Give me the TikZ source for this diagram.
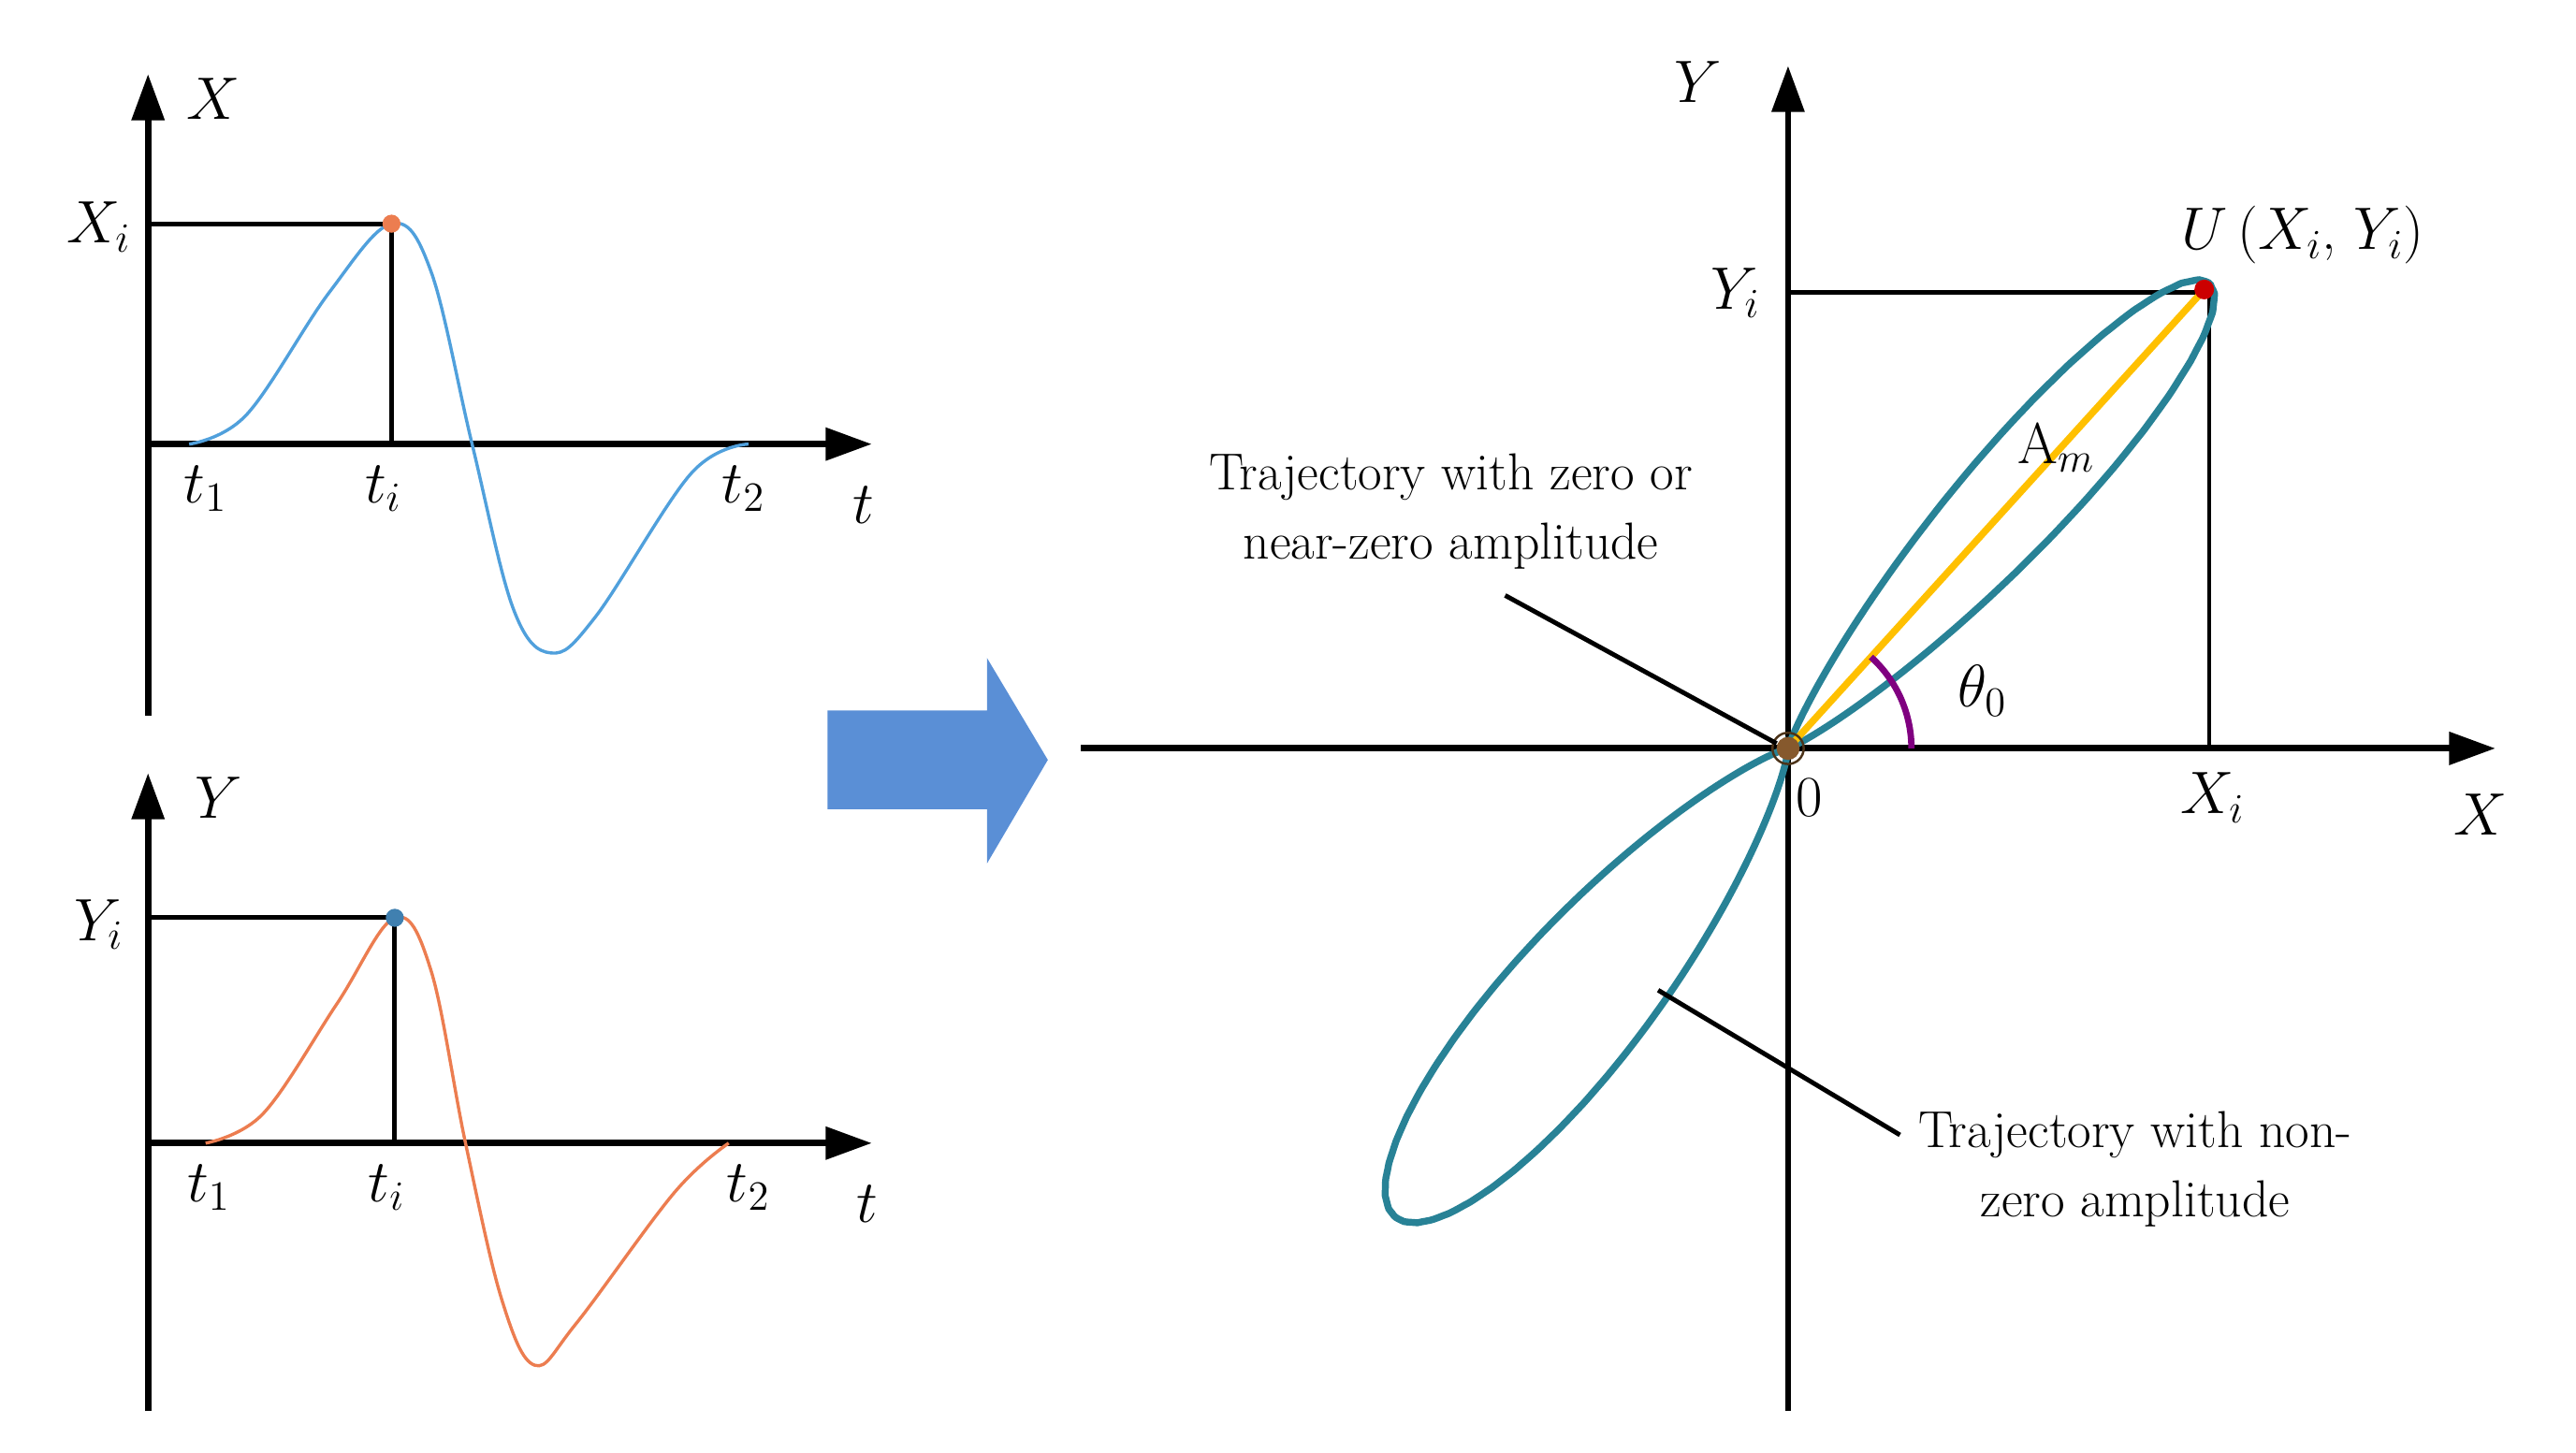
\documentclass[tikz,border=0pt]{standalone}
\usepackage{tikz}
\usetikzlibrary{arrows.meta}
\begin{document}
\begin{tikzpicture}[x=0.02cm,y=-0.02cm,
  ax/.style={line width=2.2pt,-{Triangle[length=16pt,width=11pt]}},
  thin/.style={line width=1.6pt},
  lbl/.style={font=\fontsize{20}{24}\selectfont},
  txt/.style={font=\fontsize{18}{24}\selectfont,align=center}]
\useasboundingbox (0,0) rectangle (1566,883);
\definecolor{cblue}{RGB}{80,160,220}
\definecolor{corange}{RGB}{236,125,80}
\definecolor{teal}{RGB}{40,130,150}
\definecolor{gold}{RGB}{255,192,0}
\definecolor{arrowblue}{RGB}{90,143,214}
% top-left
\coordinate (a1) at (90,435); \coordinate (a2) at (90,45);
\coordinate (b1) at (90,270); \coordinate (b2) at (530,270);
\draw[ax] (a1)--(a2); \draw[ax] (b1)--(b2);
\coordinate (xi) at (90,136); \coordinate (pk) at (238,136); \coordinate (pb) at (238,270);
\draw[thin] (xi)--(pk)--(pb);
\draw[cblue,line width=1.1pt] plot[smooth,tension=0.6] coordinates {(115,270)(150,252)(200,178)(238,136)(262,165)(287,270)(312,370)(335,397)(362,375)(420,288)(455,270)};
\fill[corange] (pk) circle (5.5);
\node[lbl] (lX) at (130,60) {$X$};
\node[lbl] (lXi) at (60,138) {$X_i$};
\node[lbl] (lt1) at (125,297) {$t_1$};
\node[lbl] (lti) at (233,297) {$t_i$};
\node[lbl] (lt2) at (452,297) {$t_2$};
\node[lbl] (lt) at (525,307) {$t$};
% bottom-left
\coordinate (c1) at (90,858); \coordinate (c2) at (90,470);
\coordinate (d1) at (90,695); \coordinate (d2) at (530,695);
\draw[ax] (c1)--(c2); \draw[ax] (d1)--(d2);
\coordinate (yi) at (90,558); \coordinate (pk2) at (240,558); \coordinate (pb2) at (240,695);
\draw[thin] (yi)--(pk2)--(pb2);
\draw[corange,line width=1.1pt] plot[smooth,tension=0.6] coordinates {(125,695)(160,677)(205,610)(240,558)(262,590)(283,695)(305,790)(325,830)(350,805)(410,725)(443,695)};
\fill[cblue!80!black] (pk2) circle (5.5);
\node[lbl] (lY) at (133,485) {$Y$};
\node[lbl] (lYi) at (60,562) {$Y_i$};
\node[lbl] (lt1b) at (127,722) {$t_1$};
\node[lbl] (ltib) at (235,722) {$t_i$};
\node[lbl] (lt2b) at (455,722) {$t_2$};
\node[lbl] (ltb) at (527,732) {$t$};
% block arrow
\fill[arrowblue] (503,432) -- (600,432) -- (600,400) -- (637,462) -- (600,525) -- (600,492) -- (503,492) -- cycle;
% right
\coordinate (e1) at (657,455); \coordinate (e2) at (1517,455);
\coordinate (f1) at (1087,858); \coordinate (f2) at (1087,40);
\draw[ax] (e1)--(e2); \draw[ax] (f1)--(f2);
\coordinate (O) at (1087,455);
\coordinate (yy) at (1087,178); \coordinate (U) at (1340,176); \coordinate (ub) at (1343,455);
\draw[thin] (yy)--(1343,178)--(ub);
\draw[teal,line width=2.4pt] plot[domain=-40:40,samples=300,smooth] ({1087+382*cos(\x)^50*cos(47.8+\x)},{455-382*cos(\x)^50*sin(47.8+\x)});
\draw[teal,line width=2.4pt] plot[domain=-40:40,samples=300,smooth] ({1087+372*cos(\x)^26*cos(230+\x)},{455-372*cos(\x)^26*sin(230+\x)});
\draw[gold,line width=2.4pt] (O)--(U);
\draw[violet,line width=2.2pt] plot[domain=0:47.8,samples=30] ({1087+75*cos(\x)},{455-75*sin(\x)});
\fill[red!80!black] (U) circle (6);
\fill[brown!70!black] (O) circle (7);
\draw[brown!40!black,line width=0.8pt] (O) circle (9.5);
\node[lbl] (lY2) at (1032,50) {$Y$};
\node[lbl] (lYi2) at (1055,178) {$Y_i$};
\node[lbl] (lU) at (1400,143) {$U$\,($X_i$, $Y_i$)};
\node[lbl] (lAm) at (1250,272) {A$_m$};
\node[lbl] (lth) at (1205,420) {$\theta_0$};
\node[lbl] (l0) at (1100,485) {0};
\node[lbl] (lXi2) at (1345,485) {$X_i$};
\node[lbl] (lX2) at (1508,495) {$X$};
\node[txt] (t1) at (882,311) {Trajectory with zero or\\near-zero amplitude};
\node[txt] (t2) at (1298,711) {Trajectory with non-\\zero amplitude};
\coordinate (p1) at (915,362); \coordinate (p2) at (1080,452);
\coordinate (q1) at (1008,602); \coordinate (q2) at (1155,690);
\draw[thin] (p1)--(p2); \draw[thin] (q1)--(q2);
\end{tikzpicture}
\end{document}
